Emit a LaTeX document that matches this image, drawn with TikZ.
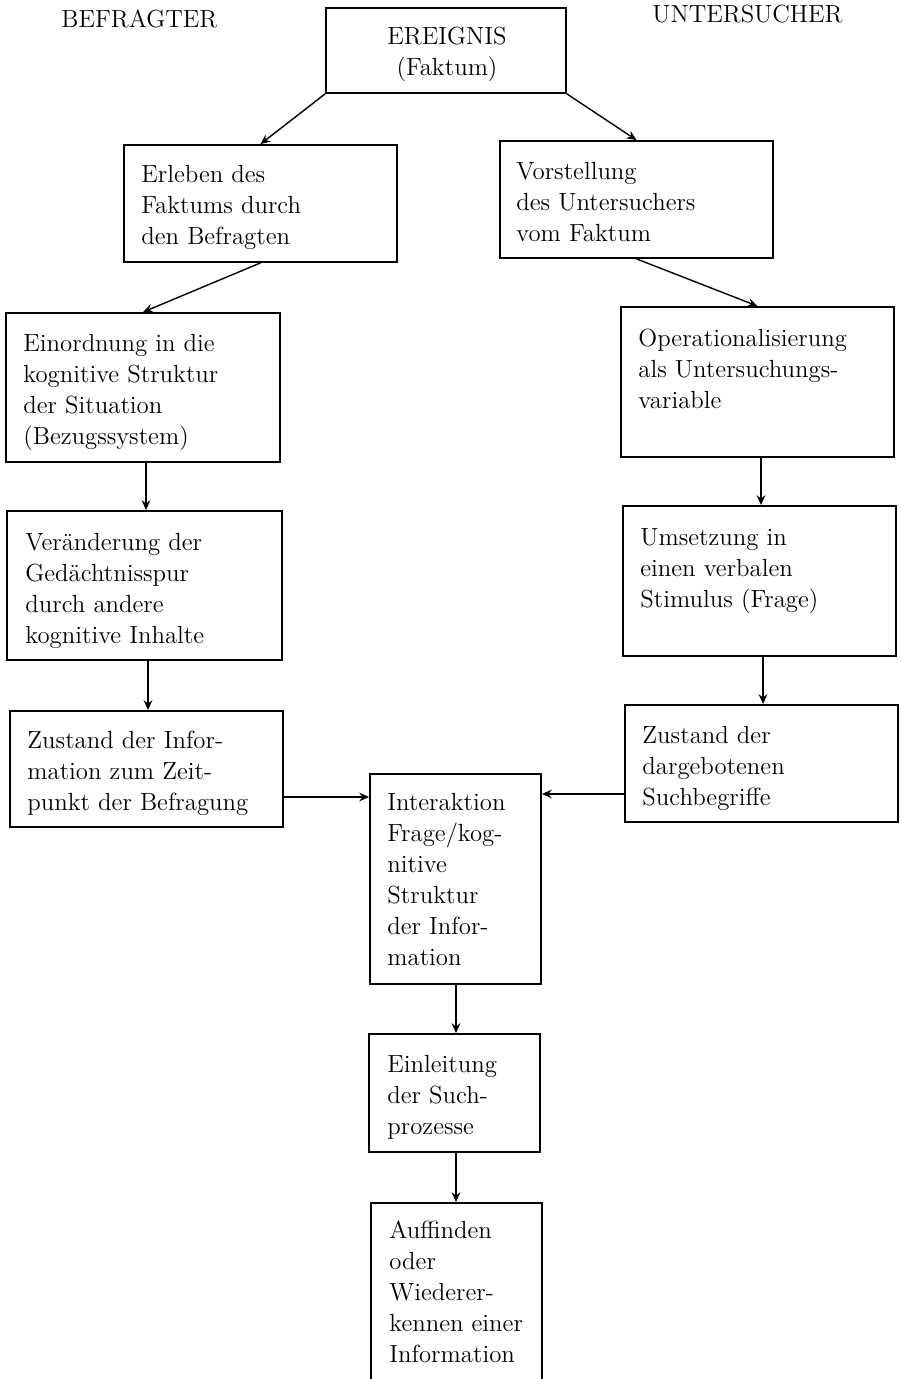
\documentclass[tikz,border=0pt]{standalone}
\usetikzlibrary{arrows.meta,fit}
\begin{document}
\begin{tikzpicture}[x=0.5pt,y=-0.5pt,
  box/.style={draw, line width=0.9pt, inner sep=0pt},
  txt/.style={inner sep=0pt, font=\fontsize{12.4}{15.5}\selectfont},
  conn/.style={line width=0.7pt, -{Stealth[length=5pt,width=4.4pt,inset=1.8pt]}}]
\useasboundingbox (0,0) rectangle (900,1379);
\clip (0,0) rectangle (900,1379);
% headings
\node[txt, anchor=base west] (befr) at (61,28) {BEFRAGTER};
\node[txt, anchor=base west] (unters) at (652,23) {UNTERSUCHER};
% boxes
\node[box, fit={(326,8) (566,93)}] (ereignis) {};
\node[box, fit={(124,145) (397,262)}] (erleben) {};
\node[box, fit={(500,141) (773,258)}] (vorst) {};
\node[box, fit={(6,313) (280,462)}] (einord) {};
\node[box, fit={(621,307) (894,457)}] (operat) {};
\node[box, fit={(7,511) (282,660)}] (veraend) {};
\node[box, fit={(623,506) (896,656)}] (umsetz) {};
\node[box, fit={(10,711) (283,827)}] (zustL) {};
\node[box, fit={(625,705) (898,822)}] (zustR) {};
\node[box, fit={(370,774) (541,984)}] (interakt) {};
\node[box, fit={(369,1034) (540,1152)}] (einleit) {};
\node[box, fit={(371,1203) (542,1390)}] (auffind) {};
% texts
\node[txt, anchor=base] (ereignisT) at (447,45) {\begin{tabular}[t]{@{}c@{}}EREIGNIS\\(Faktum)\end{tabular}};
\node[txt, anchor=base west] (erlebenT) at (141,183) {\begin{tabular}[t]{@{}l@{}}Erleben des\\Faktums durch\\den Befragten\end{tabular}};
\node[txt, anchor=base west] (vorstT) at (516,180) {\begin{tabular}[t]{@{}l@{}}Vorstellung\\des Untersuchers\\vom Faktum\end{tabular}};
\node[txt, anchor=base west] (einordT) at (23,352) {\begin{tabular}[t]{@{}l@{}}Einordnung in die\\kognitive Struktur\\der Situation\\(Bezugssystem)\end{tabular}};
\node[txt, anchor=base west] (operatT) at (638,347) {\begin{tabular}[t]{@{}l@{}}Operationalisierung\\als Untersuchungs-\\variable\end{tabular}};
\node[txt, anchor=base west] (veraendT) at (25,550) {\begin{tabular}[t]{@{}l@{}}Veränderung der\\Gedächtnisspur\\durch andere\\kognitive Inhalte\end{tabular}};
\node[txt, anchor=base west] (umsetzT) at (640,545) {\begin{tabular}[t]{@{}l@{}}Umsetzung in\\einen verbalen\\Stimulus (Frage)\end{tabular}};
\node[txt, anchor=base west] (zustLT) at (27,748) {\begin{tabular}[t]{@{}l@{}}Zustand der Infor-\\mation zum Zeit-\\punkt der Befragung\end{tabular}};
\node[txt, anchor=base west] (zustRT) at (642,743) {\begin{tabular}[t]{@{}l@{}}Zustand der\\dargebotenen\\Suchbegriffe\end{tabular}};
\node[txt, anchor=base west] (interaktT) at (387,810) {\begin{tabular}[t]{@{}l@{}}Interaktion\\Frage/kog-\\nitive\\Struktur\\der Infor-\\mation\end{tabular}};
\node[txt, anchor=base west] (einleitT) at (387,1072) {\begin{tabular}[t]{@{}l@{}}Einleitung\\der Such-\\prozesse\end{tabular}};
\node[txt, anchor=base west] (auffindT) at (389,1238) {\begin{tabular}[t]{@{}l@{}}Auffinden\\oder\\Wiederer-\\kennen einer\\Information\end{tabular}};
% connectors
\coordinate (hL) at (0,797);
\coordinate (hR) at (0,794);
\coordinate (vA) at (146,0);
\coordinate (vB) at (761,0);
\coordinate (vC) at (148,0);
\coordinate (vD) at (763,0);
\coordinate (vE) at (456,0);
\coordinate (vF) at (456,0);
\draw[conn] (ereignis.south west) -- (erleben.north);
\draw[conn] (ereignis.south east) -- (vorst.north);
\draw[conn] (erleben.south) -- (einord.north);
\draw[conn] (vorst.south) -- (operat.north);
\draw[conn] (einord.south -| vA) -- (veraend.north -| vA);
\draw[conn] (operat.south -| vB) -- (umsetz.north -| vB);
\draw[conn] (veraend.south -| vC) -- (zustL.north -| vC);
\draw[conn] (umsetz.south -| vD) -- (zustR.north -| vD);
\draw[conn] (zustL.east |- hL) -- (interakt.west |- hL);
\draw[conn] (zustR.west |- hR) -- (interakt.east |- hR);
\draw[conn] (interakt.south -| vE) -- (einleit.north -| vE);
\draw[conn] (einleit.south -| vF) -- (auffind.north -| vF);
\end{tikzpicture}
\end{document}
